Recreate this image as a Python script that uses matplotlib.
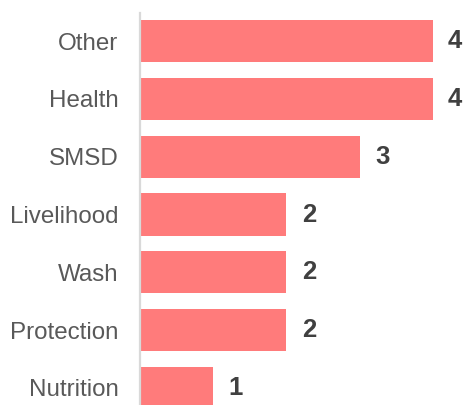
import matplotlib
matplotlib.use("Agg")
import matplotlib.pyplot as plt

# Data
categories = ["Other", "Health", "SMSD", "Livelihood", "Wash", "Protection", "Nutrition"]
counts = [4, 4, 3, 2, 2, 2, 1]

bar_color = "#FF7B7B"
label_color = "#595959"
value_color = "#404040"

plt.rcParams["font.family"] = ["Liberation Sans", "DejaVu Sans"]

W, H, DPI = 466, 405, 100
fig = plt.figure(figsize=(W / DPI, H / DPI), dpi=DPI)

px_per_unit = 73.2
left_px, top_px = 140, 13
ax = fig.add_axes([left_px / W, 0, (W - left_px) / W, (H - top_px) / H])

ypos = list(range(len(categories)))
ax.barh(ypos, counts, height=0.727, color=bar_color, edgecolor="none", zorder=2)

ax.set_xlim(0, (W - left_px) / px_per_unit)
row = 57.8
ax.set_ylim(len(categories) - 1 + (H - 388) / row, -(41 - top_px) / row)

ax.set_yticks(ypos)
ax.set_yticklabels(categories, fontsize=17.4, color=label_color)
ax.tick_params(axis="y", length=0, pad=15.5)
ax.set_xticks([])

for s in ["top", "right", "bottom"]:
    ax.spines[s].set_visible(False)
ax.spines["left"].set_color("#D9D9D9")
ax.spines["left"].set_linewidth(1.6)
ax.patch.set_alpha(0)

for y, v in zip(ypos, counts):
    ax.annotate(str(v), xy=(v, y), xytext=(11, 0), textcoords="offset points",
                ha="left", va="center", fontsize=18.5, fontweight="bold",
                color=value_color, annotation_clip=False)

fig.savefig("out.png", dpi=DPI)
